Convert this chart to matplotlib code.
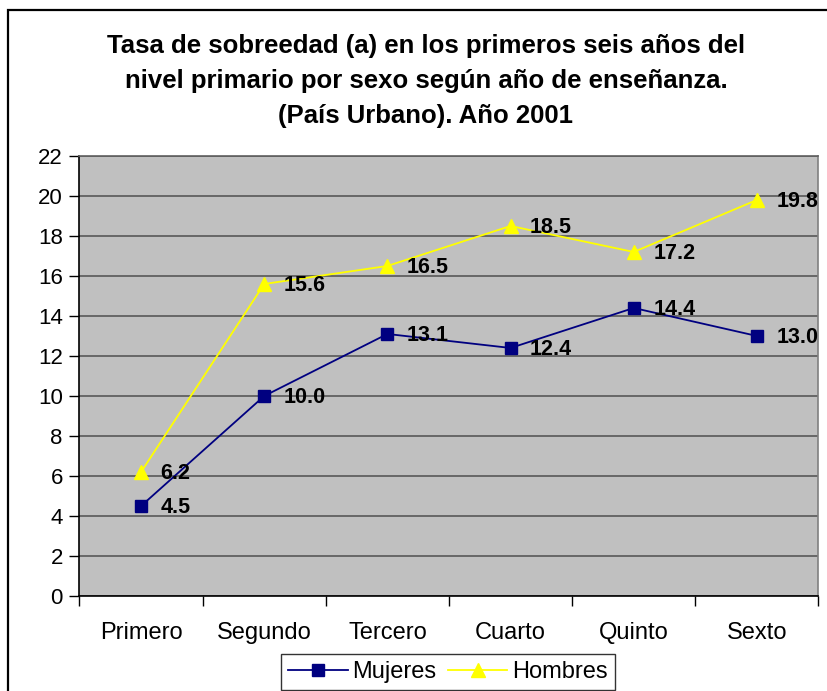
import matplotlib.pyplot as plt
from matplotlib.patches import Rectangle

plt.rcParams['font.family'] = ['Liberation Sans', 'DejaVu Sans']

categorias = ['Primero', 'Segundo', 'Tercero', 'Cuarto', 'Quinto', 'Sexto']
mujeres = [4.5, 10.0, 13.1, 12.4, 14.4, 13.0]
hombres = [6.2, 15.6, 16.5, 18.5, 17.2, 19.8]
y_ticks = list(range(0, 23, 2))

titulo = ('Tasa de sobreedad (a) en los primeros seis años del\n'
          'nivel primario por sexo según año de enseñanza.\n'
          '(País Urbano). Año 2001')


def main():
    fig = plt.figure(figsize=(8.27, 6.91), dpi=100)
    ax = fig.add_axes([0.0961, 0.1375, 0.8936, 0.6368])
    ax.set_facecolor('#C0C0C0')

    x = list(range(len(categorias)))
    ax.plot(x, mujeres, color='#000080', linewidth=1.3, marker='s',
            markersize=8.5, label='Mujeres', zorder=3)
    ax.plot(x, hombres, color='#FFFF00', linewidth=1.3, marker='^',
            markersize=10.5, label='Hombres', zorder=3)

    for serie in (mujeres, hombres):
        for xi, v in zip(x, serie):
            ax.annotate(f'{v:.1f}', (xi, v), xytext=(14, -1),
                        textcoords='offset points', ha='left', va='center',
                        fontsize=15.5, fontweight='bold', color='black',
                        zorder=4, annotation_clip=False)

    ax.set_xlim(-0.5, len(categorias) - 0.5)
    ax.set_ylim(0, 22)
    ax.set_yticks(y_ticks)
    ax.set_yticklabels([str(t) for t in y_ticks], fontsize=16)
    ax.yaxis.grid(True, color='#606060', linewidth=1.3)
    ax.set_axisbelow(True)

    ax.set_xticks(x)
    ax.set_xticklabels(categorias, fontsize=17)
    ax.set_xticks([i - 0.5 for i in range(len(categorias) + 1)], minor=True)
    ax.tick_params(axis='x', which='major', length=0, pad=19)
    ax.tick_params(axis='x', which='minor', length=7, width=1, direction='out')
    ax.tick_params(axis='y', length=7, width=1, direction='out', pad=5)

    ax.spines['left'].set_color('black')
    ax.spines['bottom'].set_color('black')
    ax.spines['top'].set_color('#606060')
    ax.spines['right'].set_color('#808080')
    for s in ax.spines.values():
        s.set_linewidth(1.2)

    fig.text(426 / 827, 1 - 81 / 691, titulo, ha='center', va='center',
             fontsize=18.5, fontweight='bold', linespacing=1.58)

    leg = fig.legend(loc='upper center', bbox_to_anchor=(448 / 827, 1 - 654 / 691),
                     ncol=2, fontsize=17, frameon=True, fancybox=False,
                     edgecolor='black', handlelength=2.5, handletextpad=0.2,
                     columnspacing=0.5, borderpad=0.3, borderaxespad=0)
    leg.get_frame().set_linewidth(1)

    fig.add_artist(Rectangle((8 / 827, -0.1), 1.2, 1.1 - 10 / 691,
                             transform=fig.transFigure, fill=False,
                             edgecolor='black', linewidth=1.6, clip_on=False))

    fig.savefig('out.png', dpi=100)


if __name__ == "__main__":
    main()
